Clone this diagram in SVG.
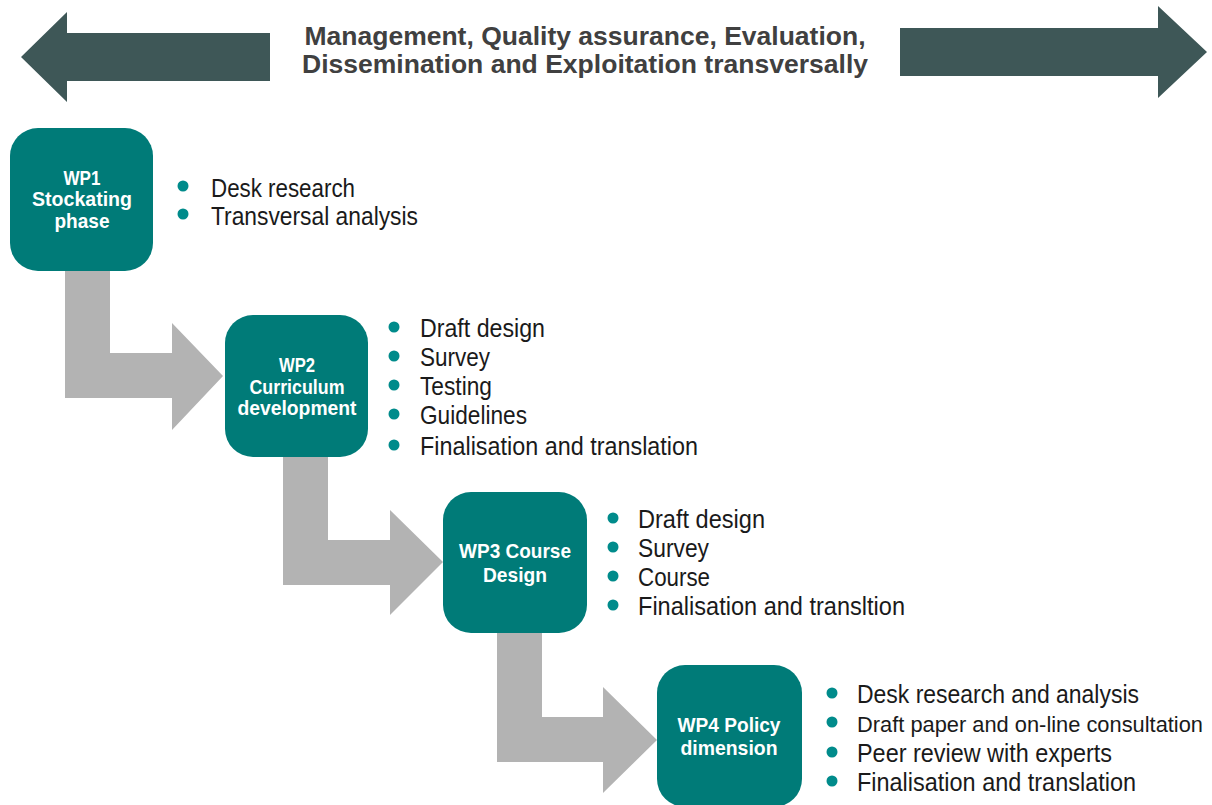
<svg xmlns="http://www.w3.org/2000/svg" width="1212" height="805" viewBox="0 0 1212 805">
<style>
.big{fill:#3E5757}
.box{fill:#007B78}
.conn{fill:#B3B3B3}
.dot{fill:#008B8B}
.title{font-family:"Liberation Sans",Arial,sans-serif;font-weight:bold;font-size:25px;fill:#404040}
.lbl{font-family:"Liberation Sans",Arial,sans-serif;font-weight:bold;font-size:21px;fill:#FFFFFF}
.item{font-family:"Liberation Sans",Arial,sans-serif;font-size:26px;fill:#1A1A1A}
</style>
<rect width="1212" height="805" fill="#FFFFFF"/>
<g id="transversal">
<polygon class="big" points="270,33 67,33 67,12 21,57 67,102 67,81 270,81"/>
<polygon class="big" points="900,28 1158,28 1158,6 1207,52 1158,98 1158,76 900,76"/>
<text class="title" x="585" y="45" text-anchor="middle" textLength="561" lengthAdjust="spacingAndGlyphs">Management, Quality assurance, Evaluation,</text>
<text class="title" x="585" y="73" text-anchor="middle" textLength="566" lengthAdjust="spacingAndGlyphs">Dissemination and Exploitation transversally</text>
</g>
<g id="connectors">
<polygon class="conn" points="65,268 110,268 110,353 172,353 172,323 223,376 172,430 172,398 65,398"/>
<polygon class="conn" points="283,455 328,455 328,540 390,540 390,510 443,562 390,615 390,585 283,585"/>
<polygon class="conn" points="497,630 542,630 542,717 603,717 603,687 657,740 603,793 603,762 497,762"/>
</g>
<g id="wp1">
<rect class="box" x="10" y="128" width="143" height="143" rx="28"/>
<text class="lbl" x="82" y="185" text-anchor="middle" textLength="37" lengthAdjust="spacingAndGlyphs">WP1</text>
<text class="lbl" x="82" y="206" text-anchor="middle" textLength="100" lengthAdjust="spacingAndGlyphs">Stockating</text>
<text class="lbl" x="82" y="228" text-anchor="middle" textLength="55" lengthAdjust="spacingAndGlyphs">phase</text>
<circle class="dot" cx="183" cy="186" r="5.5"/>
<circle class="dot" cx="183" cy="214" r="5.5"/>
<text class="item" x="211" y="197" textLength="144" lengthAdjust="spacingAndGlyphs">Desk research</text>
<text class="item" x="211" y="225" textLength="207" lengthAdjust="spacingAndGlyphs">Transversal analysis</text>
</g>
<g id="wp2">
<rect class="box" x="225" y="315" width="143" height="142" rx="28"/>
<text class="lbl" x="297" y="372" text-anchor="middle" textLength="36" lengthAdjust="spacingAndGlyphs">WP2</text>
<text class="lbl" x="297" y="394" text-anchor="middle" textLength="95" lengthAdjust="spacingAndGlyphs">Curriculum</text>
<text class="lbl" x="297" y="415" text-anchor="middle" textLength="119" lengthAdjust="spacingAndGlyphs">development</text>
<circle class="dot" cx="394" cy="327" r="5.5"/>
<circle class="dot" cx="394" cy="356" r="5.5"/>
<circle class="dot" cx="394" cy="385" r="5.5"/>
<circle class="dot" cx="394" cy="414" r="5.5"/>
<circle class="dot" cx="394" cy="445" r="5.5"/>
<text class="item" x="420" y="337" textLength="125" lengthAdjust="spacingAndGlyphs">Draft design</text>
<text class="item" x="420" y="366" textLength="70" lengthAdjust="spacingAndGlyphs">Survey</text>
<text class="item" x="420" y="395" textLength="72" lengthAdjust="spacingAndGlyphs">Testing</text>
<text class="item" x="420" y="424" textLength="107" lengthAdjust="spacingAndGlyphs">Guidelines</text>
<text class="item" x="420" y="455" textLength="278" lengthAdjust="spacingAndGlyphs">Finalisation and translation</text>
</g>
<g id="wp3">
<rect class="box" x="443" y="492" width="144" height="141" rx="28"/>
<text class="lbl" x="515" y="558" text-anchor="middle" textLength="112" lengthAdjust="spacingAndGlyphs">WP3 Course</text>
<text class="lbl" x="515" y="582" text-anchor="middle" textLength="64" lengthAdjust="spacingAndGlyphs">Design</text>
<circle class="dot" cx="613" cy="518" r="5.5"/>
<circle class="dot" cx="613" cy="547" r="5.5"/>
<circle class="dot" cx="613" cy="576" r="5.5"/>
<circle class="dot" cx="613" cy="605" r="5.5"/>
<text class="item" x="638" y="528" textLength="127" lengthAdjust="spacingAndGlyphs">Draft design</text>
<text class="item" x="638" y="557" textLength="71" lengthAdjust="spacingAndGlyphs">Survey</text>
<text class="item" x="638" y="586" textLength="72" lengthAdjust="spacingAndGlyphs">Course</text>
<text class="item" x="638" y="615" textLength="267" lengthAdjust="spacingAndGlyphs">Finalisation and transltion</text>
</g>
<g id="wp4">
<rect class="box" x="657" y="665" width="145" height="142" rx="28"/>
<text class="lbl" x="729" y="732" text-anchor="middle" textLength="103" lengthAdjust="spacingAndGlyphs">WP4 Policy</text>
<text class="lbl" x="729" y="755" text-anchor="middle" textLength="97" lengthAdjust="spacingAndGlyphs">dimension</text>
<circle class="dot" cx="832" cy="693" r="5.5"/>
<circle class="dot" cx="832" cy="722" r="5.5"/>
<circle class="dot" cx="832" cy="752" r="5.5"/>
<circle class="dot" cx="832" cy="781" r="5.5"/>
<text class="item" x="857" y="703" textLength="282" lengthAdjust="spacingAndGlyphs">Desk research and analysis</text>
<text class="item" x="857" y="732" style="font-size:22px" textLength="346" lengthAdjust="spacingAndGlyphs">Draft paper and on-line consultation</text>
<text class="item" x="857" y="762" textLength="255" lengthAdjust="spacingAndGlyphs">Peer review with experts</text>
<text class="item" x="857" y="791" textLength="279" lengthAdjust="spacingAndGlyphs">Finalisation and translation</text>
</g>
</svg>
